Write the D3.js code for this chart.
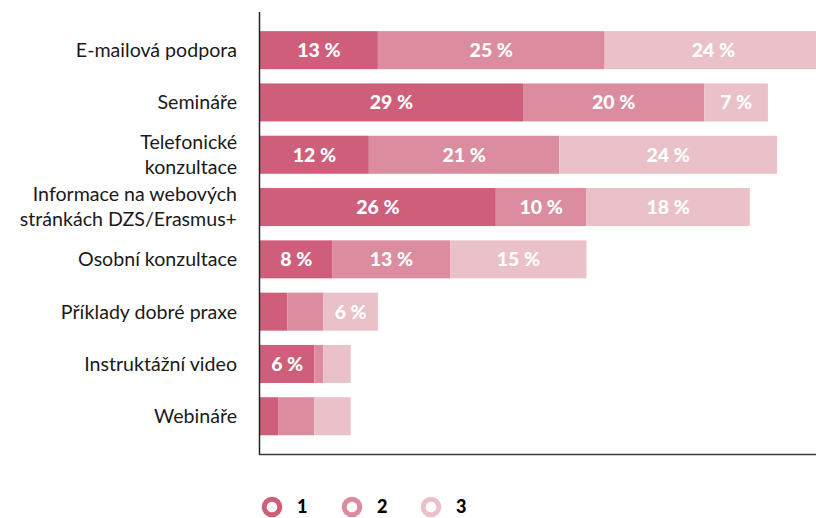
<!DOCTYPE html>
<html>
<head>
<meta charset="utf-8">
<script src="https://cdn.jsdelivr.net/npm/d3@7"></script>
<style>
  html, body { margin: 0; padding: 0; background: #fff; }
  svg { display: block; }
</style>
</head>
<body>
<svg id="chart" width="816" height="518"></svg>
<script>
// Categories (multi-line labels split on "\n")
const categories = [
  "E-mailová podpora",
  "Semináře",
  "Telefonické\nkonzultace",
  "Informace na webových\nstránkách DZS/Erasmus+",
  "Osobní konzultace",
  "Příklady dobré praxe",
  "Instruktážní video",
  "Webináře"
];
const seriesNames = ["1", "2", "3"];
// Percentages per series, in category order
const series1 = [13, 29, 12, 26, 8, 3, 6, 2];
const series2 = [25, 20, 21, 10, 13, 4, 1, 4];
const series3 = [24, 7, 24, 18, 15, 6, 3, 4];
const colors = ["#CF5E7B", "#DB8C9E", "#EAC1C8"];

const svg = d3.select("#chart");
const width = 816, height = 518;

const x = d3.scaleLinear().domain([0, 100]).range([260, 1167]);
const y = d3.scaleBand()
  .domain(categories)
  .range([24, 442.4])
  .paddingInner(0.273)
  .paddingOuter(0.1365);

const rows = categories.map((c, i) => ({
  cat: c,
  "1": series1[i], "2": series2[i], "3": series3[i]
}));
const stacked = d3.stack().keys(seriesNames)(rows);

svg.append("defs").append("clipPath").attr("id", "plot-clip")
  .append("rect").attr("x", 0).attr("y", 0).attr("width", width).attr("height", height);

const layers = svg.append("g").attr("clip-path", "url(#plot-clip)")
  .selectAll("g.layer")
  .data(stacked)
  .join("g")
  .attr("class", "layer")
  .attr("fill", (d, i) => colors[i]);

layers.selectAll("rect")
  .data(d => d)
  .join("rect")
  .attr("x", d => x(d[0]))
  .attr("y", d => y(d.data.cat))
  .attr("width", d => x(d[1]) - x(d[0]))
  .attr("height", y.bandwidth());

// Value labels (only where the segment is wide enough)
layers.selectAll("text")
  .data(d => d.map(v => ({ v, val: v[1] - v[0] })))
  .join("text")
  .filter(d => d.val >= 5)
  .attr("x", d => (x(d.v[0]) + x(d.v[1])) / 2)
  .attr("y", d => y(d.v.data.cat) + y.bandwidth() / 2)
  .attr("dy", "0.36em")
  .attr("text-anchor", "middle")
  .attr("fill", "#fff")
  .attr("font-family", "Lato, 'Open Sans', sans-serif")
  .attr("font-weight", 900)
  .attr("font-size", 19.5)
  .text(d => d.val + " %");

// Axes lines
const axisG = svg.append("g");
axisG.append("line")
  .attr("x1", 259.5).attr("x2", 259.5)
  .attr("y1", 12).attr("y2", 455)
  .attr("stroke", "#222").attr("stroke-width", 1.5);
axisG.append("line")
  .attr("x1", 259).attr("x2", width)
  .attr("y1", 454.5).attr("y2", 454.5)
  .attr("stroke", "#3a3a3a").attr("stroke-width", 1.5);

// Category labels
const labels = svg.append("g")
  .attr("font-family", "Lato, 'Open Sans', sans-serif")
  .attr("font-size", 19.6)
  .attr("fill", "#1a1a1a")
  .attr("text-anchor", "end");

categories.forEach(c => {
  const lines = c.split("\n");
  const cy = y(c) + y.bandwidth() / 2;
  const lh = 25;
  const t = labels.append("text")
    .attr("x", 237)
    .attr("y", cy - (lines.length - 1) * lh / 2);
  lines.forEach((ln, i) => {
    t.append("tspan")
      .attr("x", 237)
      .attr("dy", i === 0 ? "0.35em" : lh)
      .text(ln);
  });
});

// Legend
const legendX = [272, 352, 431];
const legend = svg.append("g");
seriesNames.forEach((s, i) => {
  legend.append("circle")
    .attr("cx", legendX[i]).attr("cy", 507)
    .attr("r", 7.8)
    .attr("fill", "none")
    .attr("stroke", colors[i])
    .attr("stroke-width", 5);
  legend.append("text")
    .attr("x", legendX[i] + 25)
    .attr("y", 507)
    .attr("dy", "0.36em")
    .attr("font-family", "Lato, 'Open Sans', sans-serif")
    .attr("font-weight", 900)
    .attr("font-size", 18)
    .attr("fill", "#000")
    .text(s);
});
</script>
</body>
</html>
